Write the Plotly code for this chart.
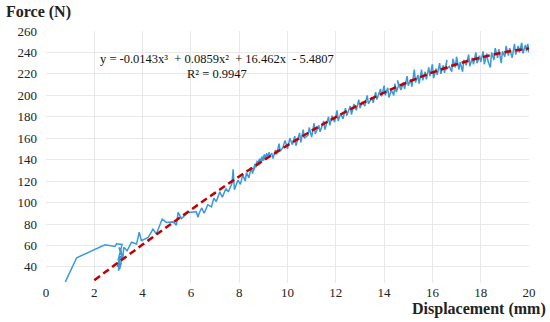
import plotly.graph_objects as go

disp_mm = [0.8, 1.27, 2.44, 2.85, 2.92, 3.15, 3.05, 2.98, 3.1, 2.95, 3.05, 3.0, 3.12, 3.05, 3.15, 3.1, 3.02, 3.18,
           3.22, 3.36, 3.54, 3.75, 3.86, 3.95, 4.23, 4.43, 4.57, 4.81, 4.99, 5.26, 5.40, 5.47, 5.61, 5.88, 6.23, 6.29, 6.36,
           6.45, 6.55, 6.7, 6.85, 6.95, 7.05, 7.2, 7.3, 7.45, 7.55, 7.7, 7.75, 7.8, 7.95, 8.05, 8.15, 8.25,
           8.3, 8.4, 8.5, 8.55, 8.65, 8.6, 8.75, 8.7, 8.85, 8.8, 8.95, 8.9, 9.05, 9.0, 9.15, 9.1, 9.25, 9.2, 9.35, 9.4, 9.5, 9.55, 9.65, 9.7,
           9.8, 9.9, 10.0, 10.1, 10.2, 10.3, 10.35, 10.5, 10.55, 10.65, 10.7, 10.85, 10.9, 11.0, 11.1, 11.15, 11.3, 11.35, 11.5, 11.55,
           11.7, 11.75, 11.85, 11.95, 12.05, 12.1,
           12.2, 12.3, 12.4, 12.45, 12.6, 12.65, 12.75, 12.85, 12.95, 13.0, 13.1, 13.2, 13.3, 13.35, 13.5, 13.55, 13.65, 13.7, 13.85, 13.9, 14.0, 14.05,
           14.15, 14.2, 14.3, 14.4, 14.45, 14.5, 14.6, 14.55, 14.7, 14.8, 14.85, 14.95, 15.0, 15.1, 15.15, 15.25, 15.3, 15.4, 15.45, 15.55,
           15.6, 15.7, 15.75, 15.85, 15.9, 16.0, 16.05, 16.15,
           16.2, 16.3, 16.35, 16.45, 16.5, 16.6, 16.55, 16.7, 16.8, 16.85, 16.95, 17.0, 17.1, 17.15, 17.25, 17.3, 17.4, 17.5, 17.55, 17.65,
           17.7, 17.8, 17.85, 17.95, 18.0, 18.1,
           18.15, 18.25, 18.3, 18.4, 18.45, 18.55, 18.6, 18.7, 18.75, 18.85, 18.9, 19.0, 19.05, 19.15, 19.2, 19.3, 19.4, 19.45, 19.55, 19.6,
           19.7, 19.75, 19.85, 19.9, 19.95, 20.0, 19.97]
force_n = [26, 48.5, 60.7, 59, 61.5, 61, 52, 46, 50, 40, 48, 36.5, 44, 38, 50, 56, 58, 47,
           58.3, 55, 63, 61.3, 72.4, 64.4, 67.5, 75.2, 70.6, 84.6, 81.5, 82, 79, 90.8, 85.2, 90.8, 91.4, 86.3, 91,
           95, 90, 98, 96, 104, 101, 110, 105, 113, 110, 118, 131, 112, 121, 117, 126, 120,
           128, 123, 133, 127, 136, 130, 139, 133, 141, 135, 143, 137, 145, 139, 146, 140, 147, 142, 146, 141, 149, 145, 155, 148,
           151, 158, 150, 160, 154, 162, 153, 165, 156, 168, 160, 163, 170, 161, 174, 164, 172, 166, 176, 168,
           180, 172, 181, 175, 186, 176,
           183, 178, 188, 181, 190, 182, 192, 186, 196, 188, 194, 190, 200, 192, 198, 193, 203, 196, 206, 199, 209, 200,
           207, 198, 205, 200, 211, 203, 209, 214, 205, 212, 206, 218, 209, 215, 208, 224, 212, 219, 211, 224,
           214, 222, 215, 226, 218, 229, 216, 225,
           219, 230, 220, 228, 221, 233, 224, 227, 222, 234, 226, 236, 224, 231, 222, 233, 228, 238, 227, 235,
           229, 240, 230, 237, 231, 241,
           229, 239, 232, 226, 240, 233, 244, 235, 243, 230, 241, 236, 246, 237, 244, 235, 248, 238, 246, 240,
           249, 239, 247, 241, 248, 240, 244]

# Polynomial trendline
trend_x = [2, 3, 4, 5, 6, 7, 8, 9, 10, 11, 12, 13, 14, 15, 16, 17, 18, 19, 20]
trend_y = [27.67, 44.29, 60.83, 77.19, 93.30, 109.06, 124.39, 139.21, 153.43, 166.96, 179.72, 191.63,
           202.58, 212.51, 221.33, 228.94, 235.27, 240.22, 243.72]

x_ticks = [0, 2, 4, 6, 8, 10, 12, 14, 16, 18, 20]
y_ticks = [40, 60, 80, 100, 120, 140, 160, 180, 200, 220, 240, 260]

equation = "y = -0.0143x³  + 0.0859x²  + 16.462x  - 5.4807"
r_squared = "R² = 0.9947"

serif = "Liberation Serif"

fig = go.Figure()
fig.add_trace(go.Scatter(x=disp_mm, y=force_n, mode="lines",
                         line=dict(color="#3A9AD9", width=1.5), showlegend=False))
fig.add_trace(go.Scatter(x=trend_x, y=trend_y, mode="lines", line_shape="spline",
                         line=dict(color="#C00000", width=2.5, dash="7px,4px"), showlegend=False))

tick_font = dict(family=serif, size=13, color="#222222")

fig.update_layout(
    width=550, height=322,
    margin=dict(l=46, r=21, t=31, b=39),
    paper_bgcolor="white", plot_bgcolor="white",
    font=dict(family=serif, size=13, color="#222222"),
    xaxis=dict(range=[0, 20], tickvals=x_ticks, showgrid=True, gridcolor="#E8E8E8", gridwidth=1,
               zeroline=False, showline=False, ticks="", tickfont=tick_font, ticklabelstandoff=0),
    yaxis=dict(range=[25, 260], tickvals=y_ticks, showgrid=True, gridcolor="#E8E8E8", gridwidth=1,
               zeroline=False, showline=False, ticks="", tickfont=tick_font, ticklabelstandoff=8),
    annotations=[
        dict(text="<b>Force (N)</b>", xref="paper", yref="paper", x=-0.087, y=1.075,
             xanchor="left", yanchor="middle", showarrow=False,
             font=dict(family=serif, size=16, color="#222222")),
        dict(text="<b>Displacement (mm)</b>", xref="paper", yref="paper", x=1.0393, y=-0.104,
             xanchor="right", yanchor="middle", showarrow=False,
             font=dict(family=serif, size=16, color="#222222")),
        dict(text=equation, xref="paper", yref="paper", x=0.354, y=0.889,
             xanchor="center", yanchor="middle", showarrow=False,
             font=dict(family=serif, size=12.5, color="#111111")),
        dict(text=r_squared, xref="paper", yref="paper", x=0.354, y=0.829,
             xanchor="center", yanchor="middle", showarrow=False,
             font=dict(family=serif, size=12.5, color="#111111")),
    ],
)

fig.write_html("out.html", config={"displayModeBar": False},
               post_script="document.body.style.margin='0';")
